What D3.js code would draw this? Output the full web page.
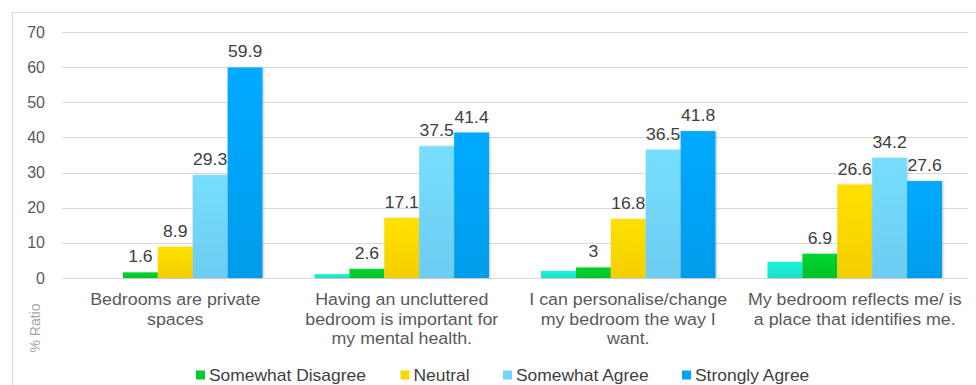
<!DOCTYPE html>
<html>
<head>
<meta charset="utf-8">
<script src="https://cdn.jsdelivr.net/npm/d3@7"></script>
<style>
  html, body { margin: 0; padding: 0; background: #fff; }
  svg { display: block; font-family: "Liberation Sans", Arial, sans-serif; }
</style>
</head>
<body>
<svg id="chart" width="976" height="385"></svg>
<script>
// Survey statements (x categories) and their wrapped label lines
const categories = [
  "Bedrooms are private spaces",
  "Having an uncluttered bedroom is important for my mental health.",
  "I can personalise/change my bedroom the way I want.",
  "My bedroom reflects me/ is a place that identifies me."
];
const categoryLines = [
  ["Bedrooms are private", "spaces"],
  ["Having an uncluttered", "bedroom is important for", "my mental health."],
  ["I can personalise/change", "my bedroom the way I", "want."],
  ["My bedroom reflects me/ is", "a place that identifies me."]
];

// Response series
const seriesNames = ["Strongly Disagree", "Somewhat Disagree", "Neutral", "Somewhat Agree", "Strongly Agree"];
const stronglyDisagree = [0, 1.1, 2.0, 4.6];
const somewhatDisagree = [1.6, 2.6, 3, 6.9];
const neutral = [8.9, 17.1, 16.8, 26.6];
const somewhatAgree = [29.3, 37.5, 36.5, 34.2];
const stronglyAgree = [59.9, 41.4, 41.8, 27.6];
const seriesValues = [stronglyDisagree, somewhatDisagree, neutral, somewhatAgree, stronglyAgree];
const seriesColors = ["#1de9d2", "#00cc2c", "#ffd800", "#72d5fc", "#00a3f5"];
const labelledSeries = ["Somewhat Disagree", "Neutral", "Somewhat Agree", "Strongly Agree"];
const legendSeries = ["Somewhat Disagree", "Neutral", "Somewhat Agree", "Strongly Agree"];

const yTicks = [0, 10, 20, 30, 40, 50, 60, 70];

const svg = d3.select("#chart");
const W = 976, H = 385;
const plot = { left: 62, right: 968, top: 32, bottom: 278 };
const FONT = "Liberation Sans, Arial, sans-serif";

// text is set slightly wide; helper places a horizontally scaled label
function wideText(sel, x, y, sx) {
  return sel.attr("transform", `translate(${x},${y}) scale(${sx},1)`)
    .attr("x", 0).attr("y", 0);
}

// outer frame
svg.append("rect")
  .attr("x", 12.5).attr("y", 12.5)
  .attr("width", W).attr("height", H)
  .attr("fill", "none").attr("stroke", "#dcdcdc");

const defs = svg.append("defs");
const shadow = defs.append("filter").attr("id", "shadow")
  .attr("x", "-10%").attr("y", "-5%").attr("width", "130%").attr("height", "110%");
shadow.append("feDropShadow").attr("dx", 1.2).attr("dy", 0).attr("stdDeviation", 0.8)
  .attr("flood-color", "#000").attr("flood-opacity", 0.22);

seriesColors.forEach((c, i) => {
  const g = defs.append("linearGradient").attr("id", "grad" + i)
    .attr("x1", 0).attr("y1", 0).attr("x2", 0).attr("y2", 1);
  g.append("stop").attr("offset", "0%").attr("stop-color", d3.color(c).brighter(0.12));
  g.append("stop").attr("offset", "100%").attr("stop-color", d3.color(c).darker(0.12));
});

const x0 = d3.scaleBand().domain(categories).range([plot.left, plot.right]);
const x1 = d3.scaleBand().domain(seriesNames).range([26, x0.bandwidth() - 26]);
const y = d3.scaleLinear().domain([0, 70]).range([plot.bottom, plot.top]);

// gridlines
svg.append("g").selectAll("line").data(yTicks).join("line")
  .attr("x1", plot.left).attr("x2", plot.right)
  .attr("y1", d => Math.round(y(d)) + 0.5).attr("y2", d => Math.round(y(d)) + 0.5)
  .attr("stroke", "#d9d9d9").attr("stroke-width", 1.2);

// y axis tick labels
const yAxis = d3.axisLeft(y).tickValues(yTicks).tickSize(0).tickPadding(0);
const yg = svg.append("g").attr("transform", `translate(45,0)`).call(yAxis);
yg.select(".domain").remove();
yg.selectAll("text").attr("font-size", 16).attr("fill", "#595959")
  .attr("font-family", FONT);

// axis title
svg.append("text")
  .attr("transform", "translate(40,328) rotate(-90)")
  .attr("text-anchor", "middle")
  .attr("font-size", 14).attr("fill", "#a6a6a6")
  .text("% Ratio");

// bars
const rows = categories.map((c, ci) => ({
  cat: c,
  items: seriesNames.map((s, si) => ({ s, si, v: seriesValues[si][ci] }))
}));

const groups = svg.append("g").selectAll("g").data(rows).join("g")
  .attr("transform", d => `translate(${x0(d.cat)},0)`);

groups.selectAll("rect").data(d => d.items.filter(it => it.v > 0)).join("rect")
  .attr("x", d => x1(d.s))
  .attr("y", d => y(d.v))
  .attr("width", x1.bandwidth())
  .attr("height", d => y(0) - y(d.v))
  .attr("fill", d => `url(#grad${d.si})`)
  .attr("filter", "url(#shadow)");

groups.selectAll("text.val").data(d => d.items.filter(it => labelledSeries.includes(it.s))).join("text")
  .attr("class", "val")
  .attr("text-anchor", "middle")
  .attr("font-size", 16).attr("fill", "#404040")
  .text(d => d.v)
  .each(function (d) {
    wideText(d3.select(this), x1(d.s) + x1.bandwidth() / 2, y(d.v) - 10, 1.1);
  });

// category labels
const catLabels = svg.append("g").selectAll("g").data(categories).join("g")
  .attr("transform", d => `translate(${x0(d) + x0.bandwidth() / 2},0) scale(1.08,1)`);
catLabels.each(function (d, i) {
  d3.select(this).selectAll("text").data(categoryLines[i]).join("text")
    .attr("x", 0)
    .attr("y", (t, li) => 305.5 + li * 19.5)
    .attr("text-anchor", "middle")
    .attr("font-size", 16.5).attr("fill", "#595959")
    .text(t => t);
});

// legend
const legendX = [196, 400.5, 503, 682];
const lg = svg.append("g").selectAll("g").data(legendSeries).join("g")
  .attr("transform", (d, i) => `translate(${legendX[i]},375)`);
lg.append("rect").attr("x", 0).attr("y", -4.5).attr("width", 9).attr("height", 9)
  .attr("fill", d => seriesColors[seriesNames.indexOf(d)]);
lg.append("text")
  .attr("font-size", 16).attr("fill", "#404040")
  .text(d => d)
  .each(function () { wideText(d3.select(this), 13, 6, 1.09); });
</script>
</body>
</html>
